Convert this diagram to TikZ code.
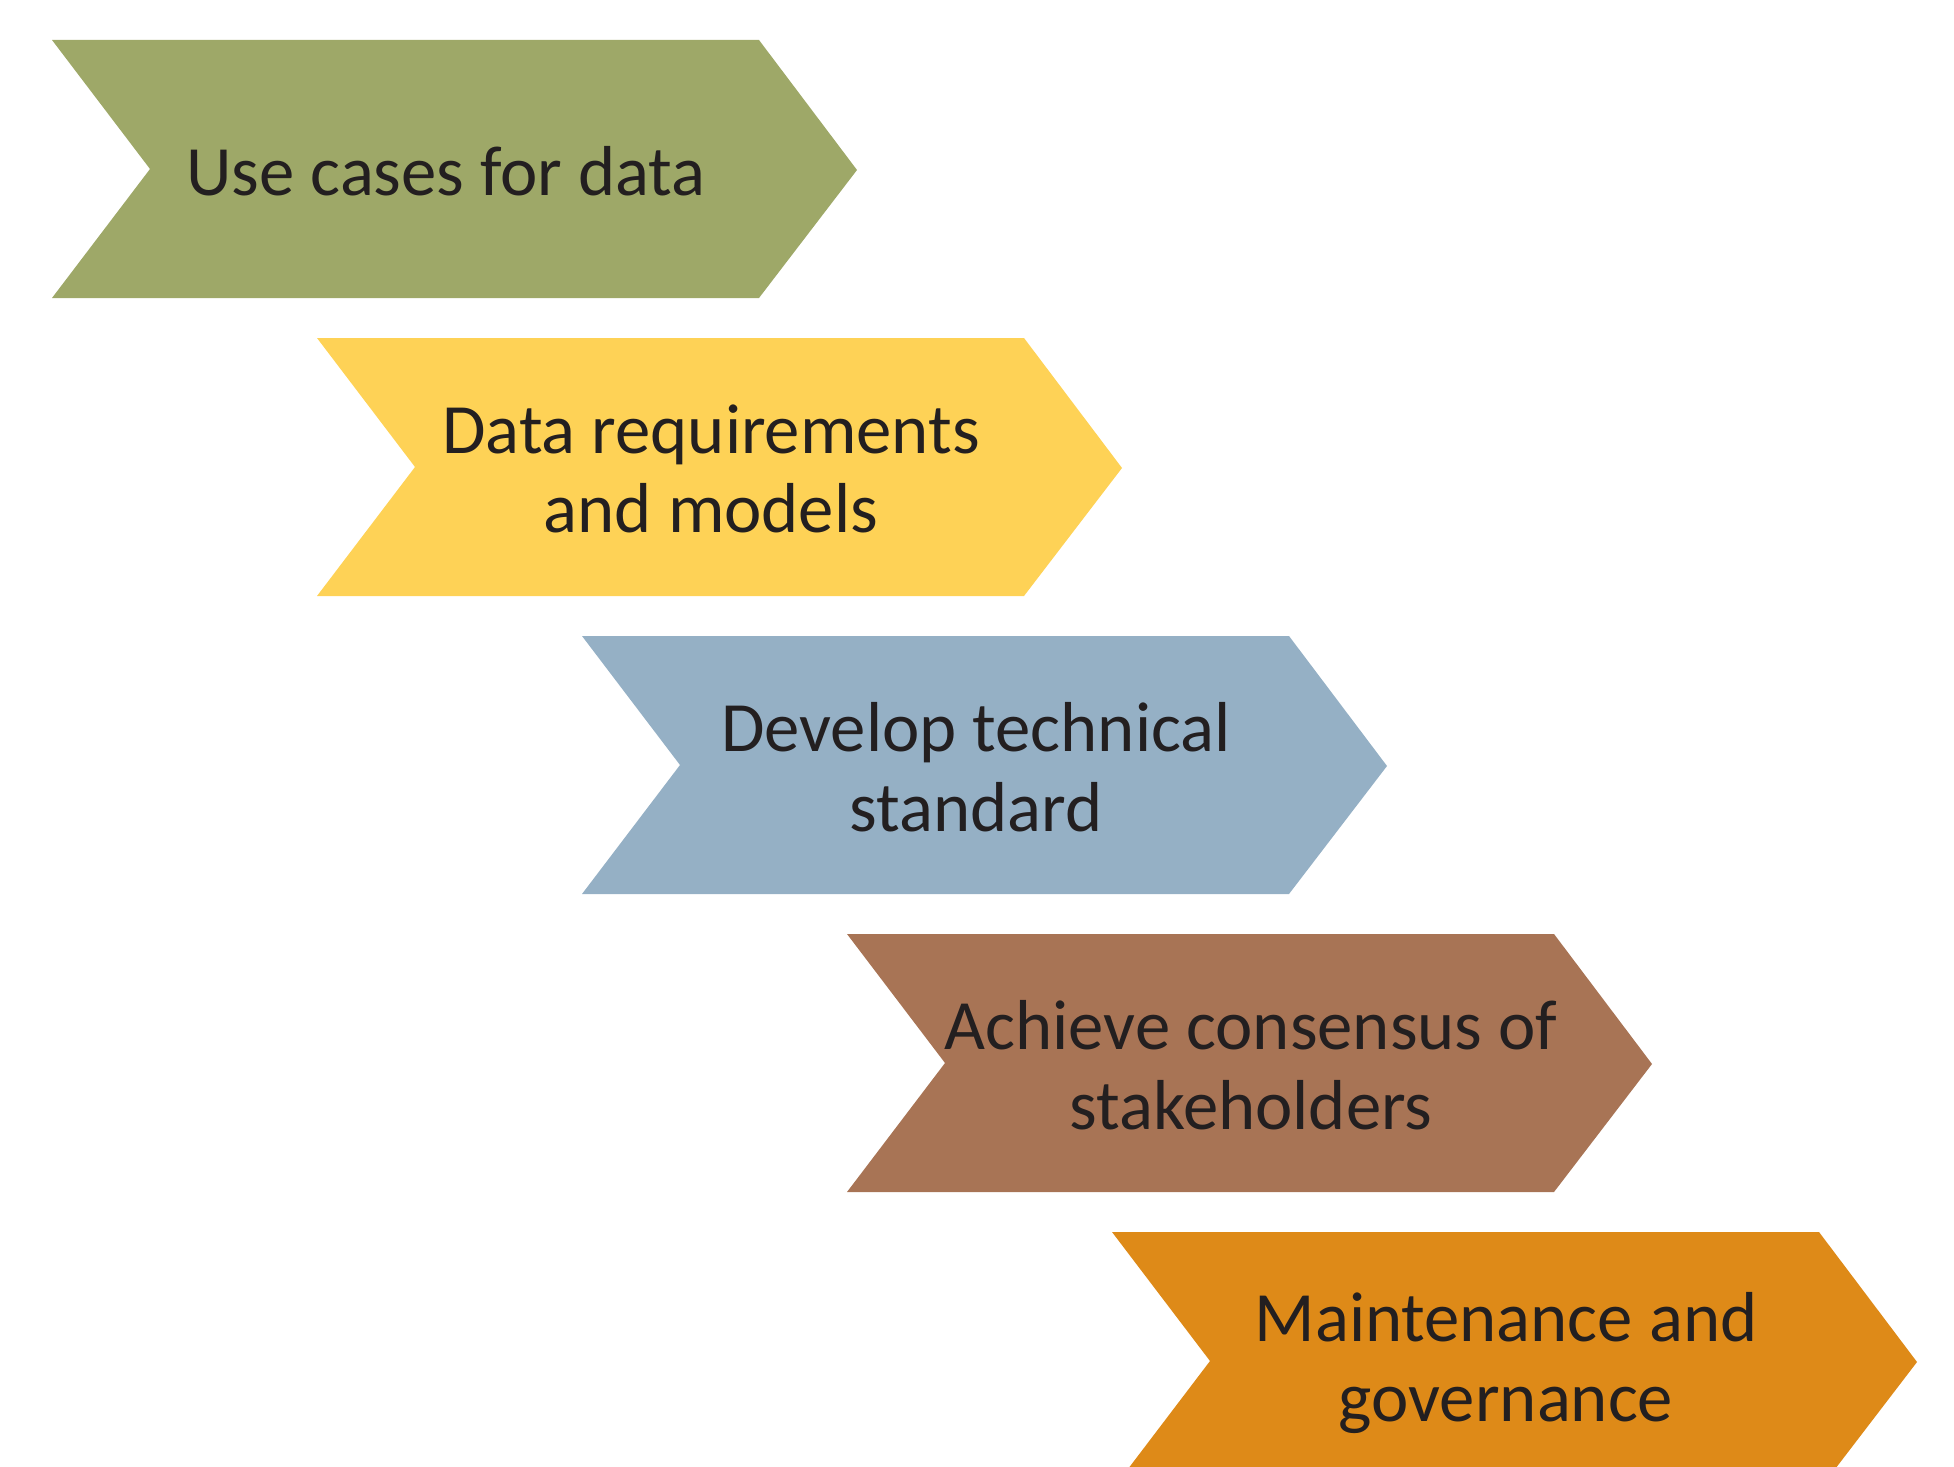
\documentclass[tikz,border=0pt]{standalone}
\usepackage{fontspec}
\setmainfont{Carlito}
\definecolor{cgreen}{HTML}{9EA868}
\definecolor{cyellow}{HTML}{FED256}
\definecolor{cblue}{HTML}{95B0C5}
\definecolor{cbrown}{HTML}{A87455}
\definecolor{corange}{HTML}{DE8A18}
\definecolor{ctext}{HTML}{231F20}
\begin{document}
\begin{tikzpicture}[x=1bp,y=-1bp,
  label/.style={text=ctext,font=\fontsize{71}{80}\selectfont,align=center,anchor=center,inner sep=0pt}]
\useasboundingbox (0,0) rectangle (1954,1467);
\clip (0,0) rectangle (1954,1467);
\foreach \i/\col/\dx/\txt in {0/cgreen/0/{Use cases for data},
  1/cyellow/0/{Data requirements\\and models},
  2/cblue/0/{Develop technical\\standard},
  3/cbrown/10/{Achieve consensus of\\stakeholders},
  4/corange/0/{Maintenance and\\governance}}{
  \pgfmathsetmacro{\xo}{52+265*\i}
  \pgfmathsetmacro{\yo}{40+298*\i}
  \fill[\col] (\xo,\yo) -- ++(707,0) -- ++(98,130) -- ++(-98,128) -- ++(-707,0) -- ++(98,-129) -- cycle;
  \node[label] (t\i) at (\xo+394+\dx,\yo+131) {\txt};
}
\end{tikzpicture}
\end{document}
